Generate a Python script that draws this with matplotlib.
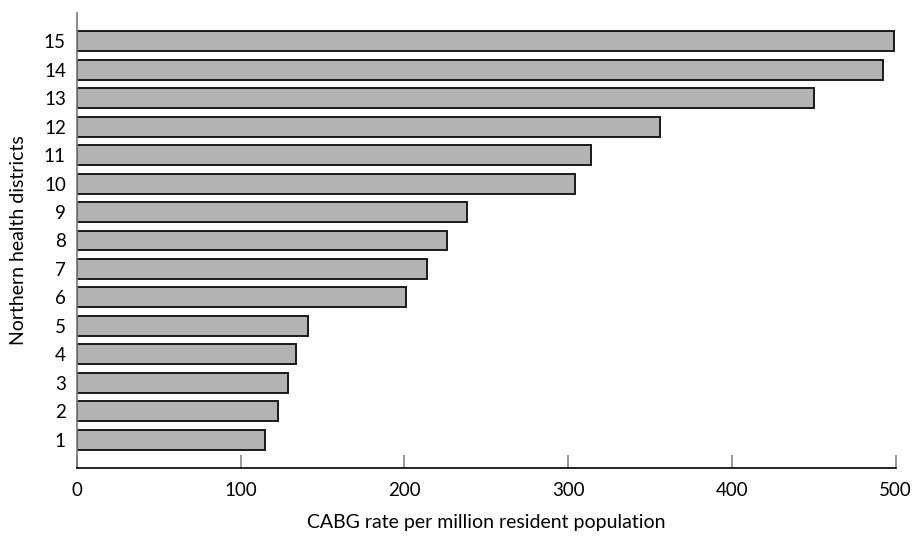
import numpy as np
import matplotlib.pyplot as plt

plt.rcParams['font.family'] = ['Lato', 'DejaVu Sans']

districts = ["1", "2", "3", "4", "5", "6", "7", "8", "9", "10",
             "11", "12", "13", "14", "15"]
rates = [115, 123, 129, 134, 141, 201, 214, 226, 238, 304,
         314, 356, 450, 492, 499]

fig = plt.figure(figsize=(9.14, 5.38), dpi=100)
ax = fig.add_axes([0.0842, 0.130, 0.8958, 0.846])

y = np.arange(1, len(districts) + 1)
ax.barh(y, rates, height=0.70, color="#b3b3b3", edgecolor="#1a1a1a", linewidth=1.4)

ax.set_xlim(0, 500)
ax.set_ylim(0, 16)
ax.set_xticks([0, 100, 200, 300, 400, 500])
ax.set_yticks(y)
ax.set_yticklabels(districts)

for s in ["top", "right"]:
    ax.spines[s].set_visible(False)
ax.spines["left"].set_color("#777777")
ax.spines["left"].set_linewidth(1.2)
ax.spines["bottom"].set_color("black")
ax.spines["bottom"].set_linewidth(1.2)

ax.tick_params(axis="x", direction="in", length=9.5, width=1.2, color="#888888",
               labelsize=13.5, pad=10)
ax.tick_params(axis="y", length=0, labelsize=13.5, pad=8)

ax.set_xlabel("CABG rate per million resident population", fontsize=14, labelpad=11)
ax.set_ylabel("Northern health districts", fontsize=14, labelpad=12)

fig.savefig("out.png", dpi=100)
